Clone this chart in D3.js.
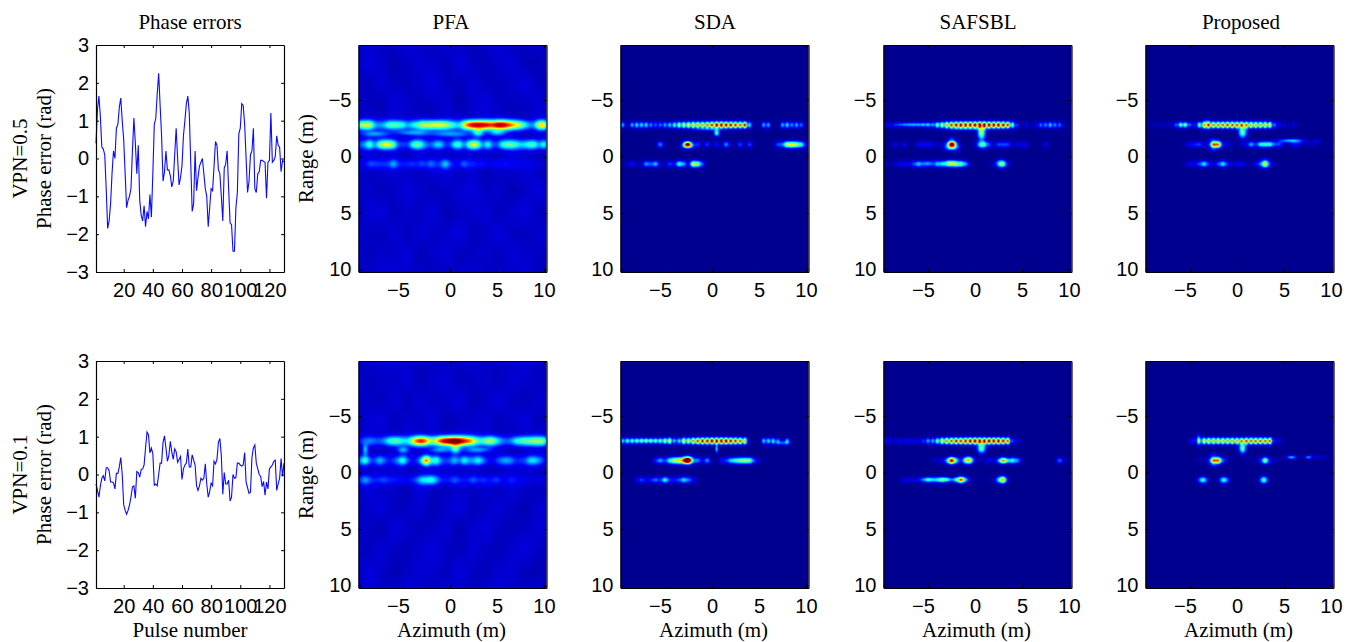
<!DOCTYPE html>
<html>
<head>
<meta charset="utf-8">
<script src="https://cdn.jsdelivr.net/npm/d3@7"></script>
<style>
  html, body { margin: 0; background: #fff; }
  svg { display: block; }
  .tick text { font-family: "Liberation Sans", sans-serif; font-size: 20px; fill: #000; }
  .label { font-family: "Liberation Serif", serif; font-size: 21px; fill: #000; text-anchor: middle; }
</style>
</head>
<body>
<div id="chart"></div>
<script>
// Phase error per pulse
var phaseHigh = [0.4,1.3,1.65,1.1,0.3,0.25,0.1,-0.8,-1.85,-1.65,-1.2,-0.4,0.2,0,0.8,0.9,1.35,1.6,1,0.5,
  -0.4,-1.3,-1.1,-1,-0.8,0.2,1.07,0.4,-0.4,0.35,-1.1,-1.5,-1.65,-1.25,-1.8,-1.4,-1.6,-0.95,-1.55,-0.4,
  0.9,1.05,1.7,2.25,1.4,0.6,-0.6,-0.35,0.2,-0.3,-0.3,-0.45,-0.75,-0.6,0.1,0.8,0,-0.7,-0.5,-0.2,
  0.6,1,1.45,1.65,1.2,-0.1,-1.4,-1.2,0.2,-0.85,-0.5,-0.2,-0.1,0,-0.4,-0.8,-1,-1.8,-1.3,-0.8,
  -0.85,-0.2,0.45,0.35,-0.3,-0.4,-1,-1.65,-0.25,-0.15,0.2,-0.8,-1.7,-1.75,-2.45,-2.45,-1.3,-0.9,0.65,0.8,
  1.45,1.4,0.9,0,-0.9,-0.6,0.1,0.2,0.8,-0.8,-0.9,-0.4,-0.35,-0.05,-0.05,-0.08,-0.1,-1.05,-0.1,-0.05,
  1.2,-0.1,-0.05,0.05,0.6,0.35,0.3,-0.35,-0.05,-0.1];
var phaseLow = [-0.25,-0.42,-0.6,-0.3,-0.1,-0.03,-0.17,0.18,0.18,0.1,-0.2,-0.2,-0.22,-0.38,0.03,0.03,0.2,0.45,0,-0.8,
  -0.95,-1.05,-0.95,-0.8,-0.6,-0.33,-0.3,-0.63,0.08,0.05,-0.07,0.13,0.15,0.25,0.7,1.12,1.05,0.57,0.7,0.55,
  -0.28,-0.25,-0.3,0,0.3,0.3,0.85,1.02,0.7,0.35,0.5,0.88,0.6,0.4,0.68,0.6,0.32,0.4,0.48,-0.13,
  0.15,0.25,0.3,0.67,0.2,0.2,0.52,0.38,0.25,-0.3,-0.42,-0.3,-0.1,-0.15,-0.1,0.28,-0.25,-0.6,-0.45,-0.23,
  -0.3,0.35,0.28,0.4,0.85,0.95,0.5,-0.52,0.05,-0.25,-0.25,-0.15,-0.7,-0.6,0,-0.1,-0.08,0.3,0.3,0.25,
  0.22,0.25,0.58,-0.2,-0.35,-0.5,-0.47,0.45,0.7,0.78,0.3,0.15,0,-0.05,-0.32,-0.18,-0.55,-0.2,-0.38,0.15,
  0.2,0.25,0.35,0.38,-0.42,-0.25,-0.1,0.42,-0.05,0.3];

var pulseTicks = [20,40,60,80,100,120];
var phaseTicks = [-3,-2,-1,0,1,2,3];
var azimuthTicks = [-5,0,5,10];
var rangeTicks = [-5,0,5,10];
var titles = ["Phase errors","PFA","SDA","SAFSBL","Proposed"];
var rowLabels = ["VPN=0.5","VPN=0.1"];

// Image strips: brightness at every half metre of azimuth from -9.5 to 10
var stripRanges = [-2.79,-1.06,0.66];

var pfaHighA = [.55,.5,.55,.2,.18,.22,.4,.42,.4,.35,.2,.3,.35,.5,.5,.55,.55,.55,.5,.4,.3,.22,.55,.78,.9,.9,.88,.82,.75,.9,.92,.82,.7,.6,.5,.35,.2,.2,.6,.65];
var pfaHighB = [.15,.2,.45,.1,.45,.55,.55,.45,.1,.15,.1,.35,.45,.3,.15,.12,.3,.3,.1,.1,.35,.4,.1,.4,.62,.45,.1,.4,.15,.1,.35,.4,.4,.35,.25,.3,.38,.4,.15,.45];
var pfaHighC = [.03,.05,.15,.12,.1,.1,.1,.28,.08,.08,.1,.12,.08,.15,.08,.2,.08,.1,.32,.1,.06,.06,.2,.08,.1,.06,.1,.06,.05,.08,.05,.08,.03,.05,.03,.03,.03,.03,.02,.02];
var pfaLowA = [.1,.15,.2,.15,.15,.2,.35,.42,.38,.3,.25,.5,.75,.85,.65,.45,.55,.78,.92,.98,1,.95,.8,.7,.55,.35,.35,.5,.5,.3,.2,.15,.2,.35,.38,.42,.42,.45,.45,.45];
var pfaLowB = [.2,.45,.12,.1,.3,.15,.05,.1,.2,.42,.12,.05,.1,.3,.9,.2,.45,.15,.08,.12,.3,.12,.38,.2,.2,.38,.2,.1,.05,.12,.2,.25,.2,.08,.1,.1,.3,.3,.2,.1];
var pfaLowC = [.1,.25,.1,.08,.1,.15,.08,.08,.06,.08,.08,.08,.15,.3,.3,.38,.25,.08,.08,.08,.18,.08,.08,.08,.18,.06,.12,.06,.08,.15,.05,.05,.08,.05,.03,.03,.03,.03,.05,.03];

var sdaHighA = [.25,.03,.25,.3,.3,.3,.22,.18,.2,.25,.28,.35,.45,.5,.55,.6,.62,.62,.68,.75,.85,.85,.82,.8,.75,.7,.78,.3,.03,.02,.25,.25,0,0,.25,.3,.22,.25,.2,0];
var sdaHighB = [0,0,0,0,0,0,0,0,.3,0,0,0,0,0,.1,.05,.2,0,.2,0,.15,0,.3,.05,0,.22,0,.22,0,0,0,0,0,.15,.1,.4,.4,.35,.3,.05];
var sdaHighC = [.02,.05,.15,.05,.05,.3,.2,.35,.05,.05,.2,.1,.45,.3,.05,.65,.55,.2,0,0,0,0,0,0,0,0,0,0,0,0,0,0,0,0,0,0,0,0,0,0];
var sdaLowA = [.25,.3,.28,.28,.28,.28,.28,.28,.3,.4,.5,.25,.3,.55,.5,.65,.72,.8,.8,.85,.85,.85,.85,.8,.75,.7,.6,.05,0,0,.28,.3,.3,.2,0,.25,0,0,0,0];
var sdaLowB = [0,0,0,0,0,0,0,.15,.3,.1,.3,.38,.38,.3,.4,.1,.2,.05,.3,0,0,.12,.15,.3,.3,.3,.3,.32,.05,0,0,0,0,0,0,0,0,0,0,0];
var sdaLowC = [0,0,0,.1,.2,.1,.15,.25,.15,.45,.15,.15,.2,.38,.25,.12,.05,0,0,0,0,0,0,0,0,0,0,0,0,0,0,0,0,0,0,0,0,0,0,0];

var safHighA = [.05,.05,.05,.05,.05,.05,.05,.05,.1,.15,.15,.35,.45,.6,.72,.82,.85,.85,.85,.85,.85,.85,.85,.85,.85,.82,.75,.4,.15,.02,.1,.02,.1,.2,.22,.28,.22,.2,.05,0];
var safHighB = [0,0,.12,0,.12,0,0,.12,.12,.12,.1,.05,.05,.05,.1,.05,0,0,0,.05,.15,.3,.2,.05,.2,.2,.2,.03,.1,.1,.1,0,0,0,.12,0,0,0,0,0];
var safHighC = [.03,.03,.06,.12,.12,.1,.2,.35,.15,.08,.1,.35,.3,.1,.08,.4,.5,.3,.04,0,0,0,.02,.05,.1,.38,.1,0,0,0,0,0,0,0,0,0,0,0,0,0];
var safLowA = [.12,.1,.08,.1,.1,.1,.1,.1,.15,.25,.25,.4,.55,.65,.7,.78,.75,.8,.85,.85,.85,.85,.85,.85,.85,.8,.7,.15,.08,.02,0,0,0,0,0,0,0,0,0,0];
var safLowB = [0,0,0,0,0,0,0,0,0,0,.05,.05,.1,.2,.6,.35,.1,.35,.35,.05,.02,.05,.12,.05,.15,.42,.1,.4,.3,.02,0,0,0,0,0,0,0,.25,.05,0];
var safLowC = [0,0,0,.03,.1,.08,.08,.08,.12,.25,.2,.25,.35,.2,.05,.3,.6,.2,0,0,0,0,.02,.05,.25,.48,.05,0,0,0,0,0,0,0,0,0,0,0,0,0];

var propHighA = [.03,.03,.05,.05,.05,.05,.15,.3,.3,.1,.1,.4,.55,.62,.65,.68,.7,.72,.72,.7,.68,.65,.62,.6,.6,.6,.55,.2,.1,.08,.03,.08,.03,0,0,0,0,0,0,0];
var propHighB = [0,0,0,0,0,0,0,0,.05,.12,.15,.2,.05,.1,.9,.85,.1,.1,.03,.02,.05,.08,.3,.08,.3,.3,.3,.1,.15,.05,0,.12,.12,.02,.03,.05,.03,0,0,0];
var propHighC = [0,0,0,0,0,0,0,0,.05,.12,.1,.2,.4,.15,.05,.2,.4,.15,.05,.12,.12,.03,.02,.12,.2,.48,.12,.02,0,0,0,0,0,0,0,0,0,0,0,0];
var propLowA = [0,0,0,0,0,0,0,0,0,.1,.1,.3,.55,.6,.6,.6,.6,.62,.62,.62,.62,.7,.7,.7,.7,.7,.7,.12,.08,.03,0,0,0,0,0,0,0,0,0,0];
var propLowB = [0,0,0,0,0,0,0,0,0,0,0,.05,.02,.1,.88,.85,.2,.03,0,0,0,.02,.02,.03,.12,.6,.1,.05,.03,0,0,0,0,0,0,0,0,0,0,0];
var propLowC = [0,0,0,0,0,0,0,0,0,0,0,0,.05,0,0,0,.05,0,0,0,0,0,0,0,0,.05,0,0,0,0,0,0,0,0,0,0,0,0,0,0];

// Spots off the strips: azimuth, range, brightness, width, height
var pfaHighSpots = [[-8,-2,.2,1,.18],[-4,-2.1,.2,1.2,.18],[0,-2,.2,1.5,.2],[3,-2.1,.3,.4,.25],[5,-2.1,.22,.6,.2]];
var pfaLowSpots = [[-9,-2,.25,.2,.35],[-5,-2,.22,.4,.2],[.6,-2.1,.32,.35,.3],[-1,-2,.2,.8,.18],[3,-2,.2,1,.18]];
var sdaHighSpots = [[.5,-2.1,.45,.2,.22],[-2.6,-1.1,.85,.3,.16],[-2.6,-.9,.35,.4,.15],[-.5,-2.4,.15,.9,.1],[8.5,-1.05,.25,.9,.2]];
var sdaLowSpots = [[-7,-2.82,.18,1.5,.12],[7.5,-2.62,.22,.5,.14],[.5,-2.1,.4,.08,.25],[-2.6,-1.1,.85,.3,.2],[-3.2,-1.05,.3,1,.22],[3.5,-1.05,.25,.9,.18]];
var safHighSpots = [[.7,-2.1,.55,.28,.42],[-1,-2.45,.12,1.5,.1],[-2.45,-1.1,.9,.3,.2],[-2.45,-.8,.35,.5,.2],[-2.5,-1.6,.12,.3,.12],[-6.5,-2.82,.25,1.6,.13],[-5,.62,.2,.4,.18],[-2.6,.62,.32,.45,.2],[-2.7,.62,.2,.45,.2],[2.7,.62,.3,.3,.25],[.7,-1.05,.25,.3,.25]];
var safLowSpots = [[.7,-2.15,.5,.3,.3],[-2.5,-1.05,.4,.3,.2],[-.7,-1.1,.4,.3,.22],[3.4,-1.05,.25,.3,.16],[2.9,-1.05,.3,.3,.16],[-1.7,.62,.1,1,.12],[-5,.62,.2,.6,.13],[-3.2,.62,.22,.6,.13],[-1.4,.62,.2,.3,.18],[2.9,.62,.3,.3,.22]];
var propHighSpots = [[.6,-2.15,.48,.3,.35],[-2.6,-1.5,.1,.4,.12],[-2.6,-.6,.1,.3,.12],[5.8,-1.4,.32,.9,.13],[8.5,-1.35,.1,.3,.12],[3.2,-1.1,.15,.9,.15],[3,.62,.2,.3,.3],[-3.2,-2.85,.25,.2,.3],[-5.5,-2.82,.15,.6,.12]];
var propLowSpots = [[.6,-2.15,.48,.25,.32],[-2.5,-1.55,.1,.4,.12],[-2.5,-.6,.1,.3,.12],[5.8,-1.35,.3,.35,.12],[7.6,-1.35,.25,.25,.12],[8.8,-1.35,.08,.6,.12],[-4.1,-2.9,.25,.12,.35],[-4.7,-2.82,.08,.1,.12],[-3.65,.66,.38,.33,.2],[-1.37,.66,.38,.33,.2],[2.84,.66,.42,.28,.22]];

// Faint clutter behind the PFA maps, in hundredths of the colour range
var pfaClutter = [
  [6,8,5,7,9,6,5,8,6,4,7,9,5,6,8,5],
  [5,9,7,4,6,8,7,5,9,6,5,7,8,5,4,7],
  [7,5,8,6,5,7,9,6,5,8,6,5,7,9,6,5],
  [8,6,4,9,7,5,6,8,4,7,9,6,5,6,8,7],
  [5,7,9,5,6,8,4,7,9,5,6,8,6,4,7,9],
  [6,9,6,7,4,9,6,5,7,6,8,5,9,7,5,6],
  [9,5,7,8,6,5,8,9,5,7,4,6,7,8,6,4],
  [6,7,5,6,9,7,5,6,8,9,6,7,4,6,9,7],
  [4,8,9,5,7,6,9,4,6,7,8,5,7,9,5,6],
  [7,6,5,8,5,8,6,7,9,5,6,9,6,5,7,8],
  [8,5,7,6,9,4,7,8,5,6,7,5,8,7,6,5],
  [5,7,8,9,6,7,5,6,7,8,5,7,6,9,5,7]
];

var width = 1347;
var height = 642;
var rows = [45, 361];
var plotHeight = 227;
var plotWidth = 188;
var mapLefts = [358.5, 620.5, 883.5, 1145.5];
var azStep = 0.5;
var azStart = -9.5;
var pad = 4;

var svg = d3.select("#chart").append("svg")
  .attr("width", width)
  .attr("height", height);

// MATLAB style jet ramp
var jet = d3.scaleLinear()
  .domain([0, 0.125, 0.375, 0.625, 0.875, 1])
  .range(["rgb(0,0,143)", "rgb(0,0,255)", "rgb(0,255,255)", "rgb(255,255,0)", "rgb(255,0,0)", "rgb(128,0,0)"])
  .clamp(true);

function frame(g, xScale, yScale, xTicks, yTicks, yFormat) {
  // ticks point inwards and are mirrored on the top and right sides
  g.append("g")
    .attr("class", "x-bottom")
    .attr("transform", `translate(0, ${plotHeight})`)
    .call(d3.axisBottom(xScale).tickValues(xTicks).tickSizeInner(-3).tickSizeOuter(0).tickPadding(11));
  g.append("g")
    .call(d3.axisLeft(yScale).tickValues(yTicks).tickFormat(yFormat).tickSizeInner(-3).tickSizeOuter(0).tickPadding(7));
  g.append("g")
    .call(d3.axisTop(xScale).tickValues(xTicks).tickSizeInner(-3).tickSizeOuter(0).tickFormat(""));
  g.append("g")
    .attr("transform", `translate(${plotWidth}, 0)`)
    .call(d3.axisRight(yScale).tickValues(yTicks).tickSizeInner(-3).tickSizeOuter(0).tickFormat(""));
  g.selectAll(".domain").attr("stroke", "#000").attr("stroke-width", 1.2);
  g.selectAll(".tick line").attr("stroke", "#000");
}

function drawPhase(top, values) {
  var g = svg.append("g").attr("transform", `translate(96, ${top})`);
  var xScale = d3.scaleLinear().domain([1, 130]).range([0, plotWidth]);
  var yScale = d3.scaleLinear().domain([-3, 3]).range([plotHeight, 0]);
  var line = d3.line()
    .x((d, i) => xScale(i + 1))
    .y(d => yScale(d));
  g.append("path")
    .datum(values)
    .attr("d", line)
    .attr("fill", "none")
    .attr("stroke", "#0a0aff")
    .attr("stroke-width", 1.1);
  frame(g, xScale, yScale, pulseTicks, phaseTicks, d3.format("d"));
}

function overlapFor(sigma) {
  // neighbouring half metre samples overlap, so scale them back to their read value
  return 1 + 2 * Math.exp(-(azStep * azStep) / (2 * sigma * sigma))
    + 2 * Math.exp(-(4 * azStep * azStep) / (2 * sigma * sigma));
}

function drawMap(left, top, strips, spots, sigmaComb, combGain, sigmaX, sigmaY, clutter, flipClutter) {
  var g = svg.append("g").attr("transform", `translate(${left}, ${top})`);
  var xScale = d3.scaleLinear().domain([-9.73, 10.27]).range([0, plotWidth]);
  var yScale = d3.scaleLinear().domain([-9.87, 10.22]).range([0, plotHeight]);

  var raw = document.createElement("canvas");
  raw.width = plotWidth + 2 * pad;
  raw.height = plotHeight + 2 * pad;
  var ctx = raw.getContext("2d");
  var img = ctx.createImageData(raw.width, raw.height);

  for (var py = 0; py < raw.height; py++) {
    var r = yScale.invert(py - pad + 0.5);
    for (var px = 0; px < raw.width; px++) {
      var az = xScale.invert(px - pad + 0.5);
      var v = 0;
      if (clutter) {
        // bilinear lookup into the clutter table
        var cy = Math.min(py / raw.height * (clutter.length - 1), clutter.length - 1.001);
        var cx = Math.min(px / raw.width * (clutter[0].length - 1), clutter[0].length - 1.001);
        if (flipClutter) cy = clutter.length - 1.001 - cy;
        var y0 = Math.floor(cy), x0 = Math.floor(cx), fy = cy - y0, fx = cx - x0;
        v += ((1 - fy) * ((1 - fx) * clutter[y0][x0] + fx * clutter[y0][x0 + 1])
          + fy * ((1 - fx) * clutter[y0 + 1][x0] + fx * clutter[y0 + 1][x0 + 1])) / 100;
      }
      strips.forEach(function(strip, s) {
        var dr = r - stripRanges[s];
        if (Math.abs(dr) > 4 * sigmaY) return;
        // the first strip carries the fine comb of scatterers
        var sx = s === 0 ? sigmaComb : sigmaX;
        var gain = s === 0 ? combGain : 1;
        var fr = gain * Math.exp(-(dr * dr) / (2 * sigmaY * sigmaY)) / overlapFor(sx);
        strip.forEach(function(a, i) {
          if (a === 0) return;
          var da = az - (azStart + i * azStep);
          v += a * fr * Math.exp(-(da * da) / (2 * sx * sx));
        });
      });
      spots.forEach(function(d) {
        var da = az - d[0];
        var dr = r - d[1];
        v += d[2] * Math.exp(-(da * da) / (2 * d[3] * d[3]) - (dr * dr) / (2 * d[4] * d[4]));
      });
      var c = d3.rgb(jet(v));
      var k = 4 * (py * raw.width + px);
      img.data[k] = c.r;
      img.data[k + 1] = c.g;
      img.data[k + 2] = c.b;
      img.data[k + 3] = 255;
    }
  }
  ctx.putImageData(img, 0, 0);

  // the source map is soft, so blur it a little and crop the padding away
  var out = document.createElement("canvas");
  out.width = plotWidth;
  out.height = plotHeight;
  var octx = out.getContext("2d");
  octx.filter = "blur(0.6px)";
  octx.drawImage(raw, -pad, -pad);

  g.append("image")
    .attr("width", plotWidth)
    .attr("height", plotHeight)
    .attr("href", out.toDataURL());

  frame(g, xScale, yScale, azimuthTicks, rangeTicks, null);

  // negative azimuth label sits a little left of its tick in the source
  g.selectAll(".x-bottom .tick text")
    .filter(d => d < 0)
    .attr("dx", -5);
}

drawPhase(rows[0], phaseHigh);
drawPhase(rows[1], phaseLow);

drawMap(mapLefts[0], rows[0], [pfaHighA, pfaHighB, pfaHighC], pfaHighSpots, 0.3, 1, 0.3, 0.3, pfaClutter, false);
drawMap(mapLefts[0], rows[1], [pfaLowA, pfaLowB, pfaLowC], pfaLowSpots, 0.3, 1, 0.3, 0.3, pfaClutter, true);
drawMap(mapLefts[1], rows[0], [sdaHighA, sdaHighB, sdaHighC], sdaHighSpots, 0.15, 1.25, 0.22, 0.2);
drawMap(mapLefts[1], rows[1], [sdaLowA, sdaLowB, sdaLowC], sdaLowSpots, 0.15, 1.25, 0.22, 0.2);
drawMap(mapLefts[2], rows[0], [safHighA, safHighB, safHighC], safHighSpots, 0.15, 1.25, 0.22, 0.2);
drawMap(mapLefts[2], rows[1], [safLowA, safLowB, safLowC], safLowSpots, 0.15, 1.25, 0.22, 0.2);
drawMap(mapLefts[3], rows[0], [propHighA, propHighB, propHighC], propHighSpots, 0.15, 1.25, 0.22, 0.2);
drawMap(mapLefts[3], rows[1], [propLowA, propLowB, propLowC], propLowSpots, 0.15, 1.25, 0.22, 0.2);

// Titles over each column
var titleCenters = [190, 451, 715, 978, 1241];
svg.selectAll(".title")
  .data(titles)
  .enter()
  .append("text")
  .attr("class", "label title")
  .attr("x", (d, i) => titleCenters[i])
  .attr("y", 29)
  .text(d => d);

// Rotated row labels
rows.forEach(function(top, i) {
  var mid = top + plotHeight / 2;
  svg.append("text")
    .attr("class", "label")
    .attr("transform", `translate(27, ${mid}) rotate(-90)`)
    .text(rowLabels[i]);
  svg.append("text")
    .attr("class", "label")
    .attr("transform", `translate(51, ${mid}) rotate(-90)`)
    .text("Phase error (rad)");
  svg.append("text")
    .attr("class", "label")
    .attr("transform", `translate(313, ${mid}) rotate(-90)`)
    .text("Range (m)");
});

svg.append("text")
  .attr("class", "label")
  .attr("x", 190)
  .attr("y", 637)
  .text("Pulse number");

mapLefts.forEach(function(left) {
  svg.append("text")
    .attr("class", "label")
    .attr("x", left + 93)
    .attr("y", 637)
    .text("Azimuth (m)");
});
</script>
</body>
</html>
